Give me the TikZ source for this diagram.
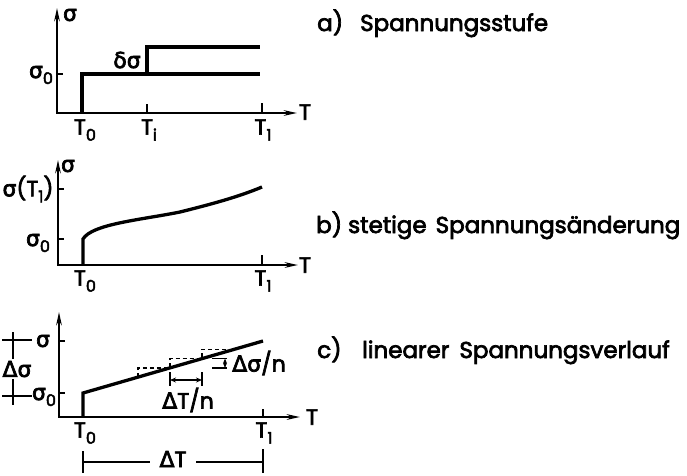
\documentclass[tikz,border=0pt]{standalone}
\usepackage{fontspec}
\setmainfont{Poppins}[FakeBold=3]
\newfontfamily\gk{DejaVu Sans}[FakeBold=3]
\usetikzlibrary{arrows.meta}
\newcommand\sgm{{\gk σ}}
\newcommand\Dlt{{\gk Δ}}
\newcommand\dlt{{\gk δ}}
\newcommand\lowsub[1]{\raisebox{-0.5ex}{\fontsize{16}{16}\selectfont #1}}
\tikzset{
  axis/.style={line width=2.3pt,{Stealth[length=13pt,width=5.5pt]}-{Stealth[length=13pt,width=5.5pt]},line join=miter},
  curve/.style={line width=3.3pt,line join=miter},
  tickln/.style={line width=1.7pt},
  dimln/.style={line width=1.7pt},
  lbl/.style={inner sep=0.5pt,font=\fontsize{22}{24}\selectfont},
  captxt/.style={inner sep=0pt,anchor=base west,font=\fontsize{23}{27}\selectfont},
  stairs/.style={line width=1.3pt,dash pattern=on 4pt off 3pt},
}
\begin{document}
\begin{tikzpicture}[x=1pt,y=-1pt]
\useasboundingbox (0,0) rectangle (687,475);
% ---------------- panel a
\coordinate (a0) at (57,113);
\coordinate (ay) at (57,8);
\coordinate (ax) at (297,113);
\draw[axis] (ay) -- (a0) -- (ax);
\coordinate (aS0) at (57,74);
\coordinate (aS0e) at (63,74);
\draw[tickln] (aS0) -- (aS0e);
\coordinate (aTi) at (147,113);
\coordinate (aTit) at (147,104);
\draw[tickln] (aTi) -- (aTit);
\coordinate (aT1) at (262,113);
\coordinate (aT1t) at (262,103);
\draw[tickln] (aT1) -- (aT1t);
\coordinate (aT0) at (82,113);
\coordinate (aL1) at (82,74);
\coordinate (aL2) at (260,74);
\draw[curve] (aT0) -- (aL1) -- (aL2);
\coordinate (aU0) at (147,74);
\coordinate (aU1) at (147,47);
\coordinate (aU2) at (260,47);
\draw[curve] (aU0) -- (aU1) -- (aU2);
\node[lbl] (asig) at (70,15) {\sgm};
\node[lbl] (asig0) at (41,75) {\sgm\lowsub{0}};
\node[lbl] (adsig) at (127,60) {\dlt\sgm};
\node[lbl] (aT0l) at (85,130) {T\lowsub{0}};
\node[lbl] (aTil) at (149,130) {T\lowsub{i}};
\node[lbl] (aT1l) at (263,130) {T\lowsub{1}};
\node[lbl] (aTl) at (305,112) {T};
% ---------------- panel b
\coordinate (b0) at (58,265);
\coordinate (by) at (58,160);
\coordinate (bx) at (298,265);
\draw[axis] (by) -- (b0) -- (bx);
\coordinate (bS1) at (58,189);
\coordinate (bS1e) at (64,189);
\draw[tickln] (bS1) -- (bS1e);
\coordinate (bS0) at (58,239);
\coordinate (bS0e) at (64,239);
\draw[tickln] (bS0) -- (bS0e);
\coordinate (bT1) at (262,265);
\coordinate (bT1t) at (262,255);
\draw[tickln] (bT1) -- (bT1t);
\coordinate (bT0) at (83,265);
\coordinate (bC0) at (83,239);
\coordinate (bC1) at (180,212);
\coordinate (bC2) at (262,187);
\draw[curve] (bT0) -- (bC0) .. controls (92,224) and (140,220) .. (bC1) .. controls (212,204) and (238,197) .. (bC2);
\node[lbl] (bsig) at (68,166) {\sgm};
\node[lbl] (bsigT) at (28,189) {\sgm(T\lowsub{1})};
\node[lbl] (bsig0) at (38,243) {\sgm\lowsub{0}};
\node[lbl] (bT0l) at (85,281) {T\lowsub{0}};
\node[lbl] (bT1l) at (263,281) {T\lowsub{1}};
\node[lbl] (bTl) at (305,265) {T};
% ---------------- panel c
\coordinate (c0) at (59,417);
\coordinate (cy) at (59,312);
\coordinate (cx) at (300,417);
\draw[axis] (cy) -- (c0) -- (cx);
\coordinate (cS1) at (59,341);
\coordinate (cS1e) at (65,341);
\draw[tickln] (cS1) -- (cS1e);
\coordinate (cS0) at (59,393);
\coordinate (cS0e) at (65,393);
\draw[tickln] (cS0) -- (cS0e);
\coordinate (cT1) at (263,417);
\coordinate (cT1t) at (263,409);
\draw[tickln] (cT1) -- (cT1t);
\coordinate (cT0) at (83,417);
\coordinate (cL0) at (83,393);
\coordinate (cL1) at (263,341);
\draw[curve] (cT0) -- (cL0) -- (cL1);
% staircase
\draw[stairs] (138,377.1) -- (138,367.9) -- (170,367.9) -- (170,358.6) -- (202,358.6) -- (202,349.4) -- (228,349.4);
% Delta T / n
\coordinate (dtA) at (170,380);
\coordinate (dtB) at (202,380);
\draw[tickln] (170,372) -- (170,386);
\draw[tickln] (202,372) -- (202,386);
\draw[dimln,{Stealth[length=6pt,width=5pt]}-{Stealth[length=6pt,width=5pt]}] (dtA) -- (dtB);
\node[lbl] (dtn) at (188,400) {\Dlt T/n};
% Delta sigma / n marker
\draw[tickln] (212,358.6) -- (227,358.6);
\draw[tickln] (212,367.9) -- (227,367.9);
\draw[dimln,{Stealth[length=5pt,width=4pt]}-{Stealth[length=5pt,width=4pt]}] (225,358.6) -- (225,367.9);
\node[lbl] (dsn) at (259,363) {\Dlt\sgm/n};
% left dimension Delta sigma
\coordinate (ldT) at (13,332);
\coordinate (ldB) at (13,405);
\draw[dimln] (ldT) -- (ldB);
\draw[dimln] (2,340) -- (32,340);
\draw[dimln] (2,396) -- (32,396);
\node[lbl,fill=white,inner sep=2pt] (ldsig) at (17,369) {\Dlt\sgm};
\node[lbl] (csig) at (43,341) {\sgm};
\node[lbl] (csig0) at (44,397) {\sgm\lowsub{0}};
% bottom dimension Delta T
\coordinate (bdL) at (83,462);
\coordinate (bdR) at (263,462);
\draw[dimln] (bdL) -- (bdR);
\draw[dimln] (83,451) -- (83,473);
\draw[dimln] (263,449) -- (263,473);
\node[lbl,fill=white,inner xsep=10pt,inner ysep=0pt] (bdT) at (173,459) {\Dlt T};
\node[lbl] (cT0l) at (85,433) {T\lowsub{0}};
\node[lbl] (cT1l) at (264,433) {T\lowsub{1}};
\node[lbl] (cTl) at (312,417) {T};
% ---------------- captions
\node[captxt] (capa) at (317,31) {\makebox[43pt][l]{a)}Spannungsstufe};
\node[captxt] (capb) at (316,233) {\makebox[32pt][l]{b)}stetige\hspace{9pt}Spannungsänderung};
\node[captxt] (capc) at (317,358) {\makebox[45pt][l]{c)}linearer\hspace{10pt}Spannungsverlauf};
\end{tikzpicture}
\end{document}
